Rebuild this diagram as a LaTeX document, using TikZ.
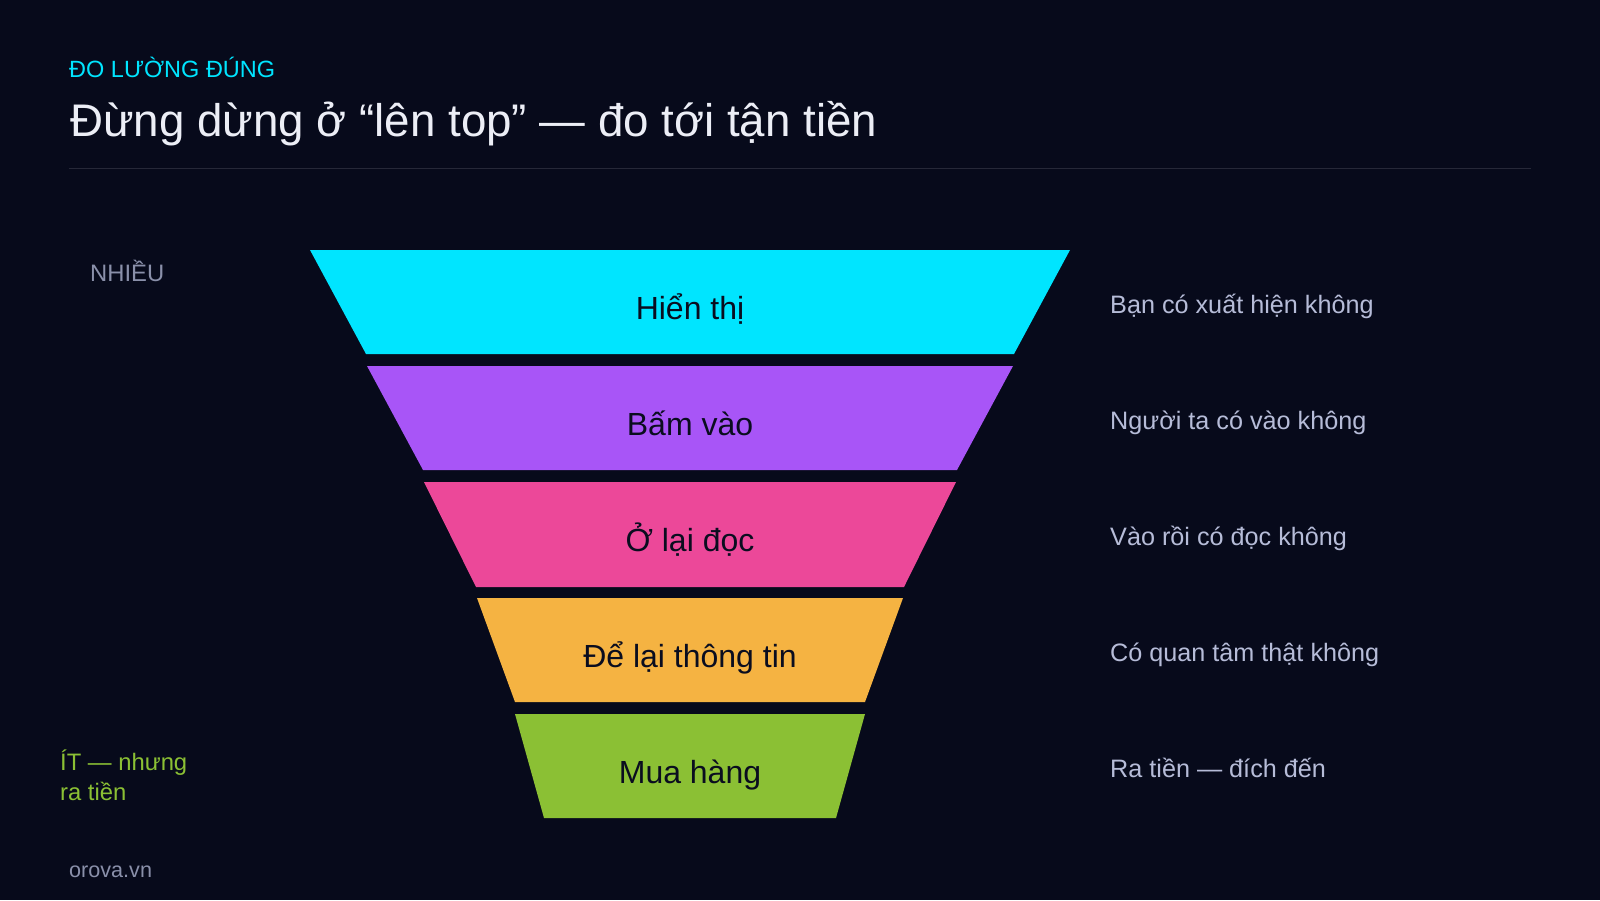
\documentclass[tikz,border=0pt]{standalone}
\usepackage{fontspec}
\setmainfont{Liberation Sans}
\definecolor{bg}{HTML}{070A1B}
\definecolor{cyanc}{HTML}{00E5FF}
\definecolor{purplec}{HTML}{A855F7}
\definecolor{pinkc}{HTML}{EC4899}
\definecolor{amberc}{HTML}{F5B342}
\definecolor{greenc}{HTML}{8BC034}
\definecolor{inktext}{HTML}{0A0D1F}
\definecolor{sidetext}{HTML}{B6BCD8}
\definecolor{graytext}{HTML}{8A90AA}
\definecolor{titletext}{HTML}{ECEEF6}
\definecolor{rulec}{HTML}{262838}
\tikzset{
  bandlabel/.style={font=\fontsize{32}{38}\selectfont, text=inktext, anchor=base, inner sep=0pt},
  sidelabel/.style={font=\fontsize{25.2}{30}\selectfont, text=sidetext, anchor=base west, inner sep=0pt},
  leftlabel/.style={font=\fontsize{23.8}{28}\selectfont, anchor=base west, inner sep=0pt},
}
\begin{document}
\begin{tikzpicture}[x=1pt,y=-1pt]
\useasboundingbox (0,0) rectangle (1600,900);
\fill[bg] (0,0) rectangle (1600,900);
% header
\node[anchor=base west, inner sep=0pt, text=cyanc, font=\fontsize{23.5}{28}\selectfont] (kicker) at (69,77) {ĐO LƯỜNG ĐÚNG};
\node[anchor=base west, inner sep=0pt, text=titletext, font=\fontsize{45.7}{54}\selectfont] (title) at (70,136) {Đừng dừng ở “lên top” — đo tới tận tiền};
\draw[rulec, line width=1.5pt] (69,168.5) -- (1531,168.5);
% funnel bands
\fill[cyanc]   (310,250) -- (1070,250) -- (1014,354) -- (366,354) -- cycle;
\fill[purplec] (367,366) -- (1013,366) -- (957,470) -- (423,470) -- cycle;
\fill[pinkc]   (424,482) -- (956,482) -- (904,587) -- (476,587) -- cycle;
\fill[amberc]  (477,598) -- (903,598) -- (865,702) -- (515,702) -- cycle;
\fill[greenc]  (515,714) -- (865,714) -- (836,818) -- (544,818) -- cycle;
\node[bandlabel] (b1) at (690,319) {Hiển thị};
\node[bandlabel] (b2) at (690,435) {Bấm vào};
\node[bandlabel] (b3) at (690,551) {Ở lại đọc};
\node[bandlabel] (b4) at (690,667) {Để lại thông tin};
\node[bandlabel] (b5) at (690,783) {Mua hàng};
% side questions
\node[sidelabel] (q1) at (1110,313) {Bạn có xuất hiện không};
\node[sidelabel] (q2) at (1110,429) {Người ta có vào không};
\node[sidelabel] (q3) at (1110,545) {Vào rồi có đọc không};
\node[sidelabel] (q4) at (1110,661) {Có quan tâm thật không};
\node[sidelabel] (q5) at (1110,777) {Ra tiền — đích đến};
% left scale
\node[leftlabel, text=graytext] (many) at (90,281) {NHIỀU};
\node[leftlabel, text=greenc] (few1) at (60,770) {ÍT — nhưng};
\node[leftlabel, text=greenc] (few2) at (60,800) {ra tiền};
\node[anchor=base west, inner sep=0pt, text=graytext, font=\fontsize{21.6}{26}\selectfont] (brand) at (69,877) {orova.vn};
\end{tikzpicture}
\end{document}
